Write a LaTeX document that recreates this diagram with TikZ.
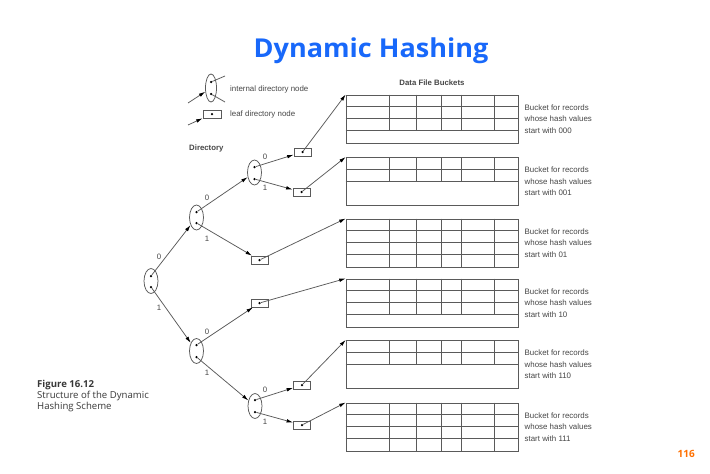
\documentclass[tikz,border=0pt]{standalone}
\usepackage{fontspec}
\setmainfont{Liberation Sans}
\newfontfamily\osans{Open Sans}
\usetikzlibrary{arrows.meta,shapes.geometric}
\definecolor{titleblue}{RGB}{24,104,250}
\definecolor{pgorange}{RGB}{255,112,0}
\definecolor{lngray}{RGB}{90,90,90}
\definecolor{txtgray}{RGB}{70,70,70}
\newcommand\mkbucket[5]{%
  \node[bucket] (#1) at (345.7,#2) {};
  \foreach \k in {1,...,#3} \draw[gl] (345.7,{#2+12*\k}) -- (517.7,{#2+12*\k});
  \foreach \xx in {389.3,416.7,441.7,461.7,494.3} \draw[gl] (\xx,#2) -- (\xx,{#2+12*#4});
  \node[lbl, anchor=west, align=left] (#1t) at (524.5,{#2+24.5}) {Bucket for records\\whose hash values\\start with #5};
}
\begin{document}
\begin{tikzpicture}[x=1pt,y=-1pt,
  gl/.style={draw=lngray, line width=0.75pt},
  arr/.style={gl, -{Latex[length=6.5pt,width=3.6pt,color=black]}},
  inode/.style={ellipse, draw=lngray, line width=0.75pt, minimum width=14pt, minimum height=25pt, inner sep=0},
  leaf/.style={rectangle, draw=lngray, line width=0.75pt, minimum width=17pt, minimum height=8pt, inner sep=0},
  pdot/.style={circle, fill=black, minimum size=2.5pt, inner sep=0},
  bucket/.style={rectangle, draw=lngray, line width=0.75pt, minimum width=172pt, minimum height=48pt, inner sep=0, anchor=north west},
  lbl/.style={font=\fontsize{7.9}{11.6}\selectfont, text=txtgray, inner sep=0},
  blbl/.style={font=\fontsize{7.8}{11.5}\selectfont\bfseries, text=txtgray, inner sep=0},
  elbl/.style={font=\fontsize{7.8}{9}\selectfont, text=txtgray, inner sep=0}]
\useasboundingbox[fill=white] (0,0) rectangle (710,474);

% title and page texts
\node[font=\osans\bfseries\fontsize{26}{30}\selectfont, text=titleblue, anchor=base, inner sep=0, xscale=1.04] (title) at (371,57.5) {Dynamic Hashing};
\node[font=\osans\bfseries\fontsize{10}{12}\selectfont, text=pgorange, anchor=base east, inner sep=0] (pnum) at (695,457) {116};
\node[font=\osans\fontsize{9.6}{11}\selectfont, text=txtgray!80!black, anchor=west, align=left, inner sep=0] (cap) at (37,396) {\textbf{Figure 16.12}\\Structure of the Dynamic\\Hashing Scheme};

% legend
\node[inode, minimum width=11pt, minimum height=28pt] (legE) at (211,88) {};
\node[pdot] (legE0) at (211,82) {};
\node[pdot] (legE1) at (211,94) {};
\coordinate (legEa) at (225,76);
\coordinate (legEb) at (225,102);
\coordinate (legEin) at (188,103);
\draw[gl] (legE0) -- (legEa);
\draw[gl] (legE1) -- (legEb);
\draw[arr] (legEin) -- (legE);
\node[lbl, anchor=west] (legEt) at (230,89) {internal directory node};
\node[leaf, minimum width=18pt] (legL) at (212,114) {};
\node[pdot] (legLd) at (212,114) {};
\coordinate (legLin) at (188,125);
\draw[arr] (legLin) -- (legL);
\node[lbl, anchor=west] (legLt) at (230,114) {leaf directory node};

\node[blbl, anchor=west] (dirt) at (189,148) {Directory};
\node[blbl] (dfb) at (432,83) {Data File Buckets};

% buckets
\mkbucket{bk1}{94.5}{3}{3}{000}
\mkbucket{bk2}{157}{2}{2}{001}
\mkbucket{bk3}{218.5}{3}{4}{01}
\mkbucket{bk4}{278.5}{3}{3}{10}
\mkbucket{bk5}{340}{2}{2}{110}
\mkbucket{bk6}{402.5}{3}{4}{111}

% internal nodes
\node[inode] (r) at (151,281) {};
\node[pdot] (r0) at (151,276) {};
\node[pdot] (r1) at (151,287) {};
\node[inode] (a) at (196.5,217.5) {};
\node[pdot] (a0) at (196.5,212) {};
\node[pdot] (a1) at (196.5,223) {};
\node[inode] (b) at (196.5,351) {};
\node[pdot] (b0) at (196.5,345) {};
\node[pdot] (b1) at (196.5,357) {};
\node[inode] (aa) at (254.5,172.5) {};
\node[pdot] (aa0) at (254.5,167) {};
\node[pdot] (aa1) at (254.5,179) {};
\node[inode] (bb) at (255,406) {};
\node[pdot] (bb0) at (255,400) {};
\node[pdot] (bb1) at (255,412) {};

% leaves
\node[leaf] (L000) at (302.5,152) {};
\node[pdot] (d000) at (302.5,152) {};
\node[leaf] (L001) at (301.5,192) {};
\node[pdot] (d001) at (301.5,192) {};
\node[leaf] (L01) at (259.5,260) {};
\node[pdot] (d01) at (259.5,260) {};
\node[leaf] (L10) at (259.5,303) {};
\node[pdot] (d10) at (259.5,303) {};
\node[leaf] (L110) at (302,385) {};
\node[pdot] (d110) at (302,385) {};
\node[leaf] (L111) at (302,425) {};
\node[pdot] (d111) at (302,425) {};

% tree edges
\draw[arr] (r0) -- (a);
\draw[arr] (r1) -- (b);
\draw[arr] (a0) -- (aa);
\draw[arr] (a1) -- (L01);
\draw[arr] (aa0) -- (L000);
\draw[arr] (aa1) -- (L001);
\draw[arr] (b0) -- (L10);
\draw[arr] (b1) -- (bb);
\draw[arr] (bb0) -- (L110);
\draw[arr] (bb1) -- (L111);

% edge labels
\node[elbl] (e1) at (159,257) {0};
\node[elbl] (e2) at (159,308) {1};
\node[elbl] (e3) at (207,198) {0};
\node[elbl] (e4) at (207,239) {1};
\node[elbl] (e5) at (265,157) {0};
\node[elbl] (e6) at (265,188) {1};
\node[elbl] (e7) at (207,332) {0};
\node[elbl] (e8) at (207,373) {1};
\node[elbl] (e9) at (265,390) {0};
\node[elbl] (e10) at (265,422) {1};

% leaf to bucket
\draw[arr] (d000) -- (bk1.north west);
\draw[arr] (d001) -- (bk2.north west);
\draw[arr] (d01) -- (bk3.north west);
\draw[arr] (d10) -- (bk4.north west);
\draw[arr] (d110) -- (bk5.north west);
\draw[arr] (d111) -- (bk6.north west);
\end{tikzpicture}
\end{document}
